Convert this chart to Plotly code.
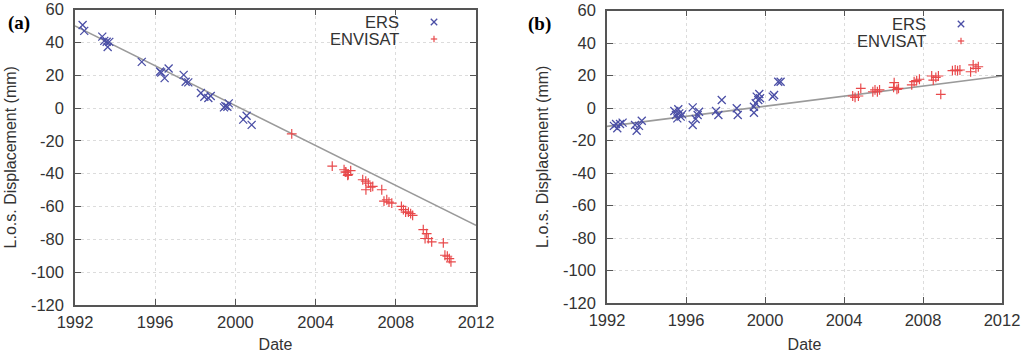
import plotly.graph_objects as go

# ---------------- Panel (a) data ----------------
a_ers_year = [1992.38, 1992.46, 1993.36, 1993.46, 1993.58, 1993.71, 1993.63, 1995.33,
              1996.24, 1996.30, 1996.47, 1996.67, 1997.42, 1997.52, 1997.65, 1998.28,
              1998.45, 1998.65, 1998.77, 1999.43, 1999.50, 1999.60, 1999.67,
              2000.39, 2000.56, 2000.81]
a_ers_disp = [50.6, 47.0, 43.5, 40.9, 40.4, 40.3, 37.2, 28.1,
              22.2, 21.6, 18.2, 24.1, 20.2, 16.0, 15.6, 9.1,
              6.9, 6.1, 7.3, 0.4, 1.2, 0.8, 2.8,
              -7.1, -4.7, -10.3]
a_env_year = [2002.81, 2004.83, 2005.42, 2005.52, 2005.63, 2005.75, 2005.48, 2005.60,
              2006.35, 2006.50, 2006.63, 2006.51, 2006.75, 2006.85, 2007.30, 2007.41,
              2007.55, 2007.66, 2007.80, 2008.28, 2008.38, 2008.49, 2008.63, 2008.74,
              2008.84, 2009.37, 2009.54, 2009.46, 2009.62, 2009.79, 2010.37, 2010.45,
              2010.57, 2010.67, 2010.75]
a_env_disp = [-15.8, -35.4, -37.6, -39.1, -40.5, -38.1, -39.0, -41.1,
              -43.7, -44.5, -45.8, -49.8, -48.2, -47.8, -49.8, -56.7,
              -55.9, -57.3, -57.9, -59.9, -61.9, -63.4, -63.4, -64.4,
              -65.4, -74.1, -76.5, -79.5, -79.5, -81.6, -82.2, -89.7,
              -90.3, -91.7, -93.7]
a_fit_year = [1992, 2012]
a_fit_disp = [50.0, -71.5]

# ---------------- Panel (b) data ----------------
b_ers_year = [1992.46, 1992.52, 1992.66, 1992.35, 1992.79, 1993.42, 1993.50, 1993.62,
              1993.76, 1995.41, 1995.49, 1995.56, 1995.66, 1995.73, 1995.81, 1995.61,
              1996.34, 1996.34, 1996.49, 1996.59, 1996.66, 1997.52, 1997.64, 1997.81,
              1998.57, 1998.62, 1999.44, 1999.44, 1999.53, 1999.58, 1999.66, 1999.71,
              1999.75, 2000.39, 2000.46, 2000.67, 2000.79]
b_ers_disp = [-9.8, -12.5, -9.8, -11.0, -9.0, -10.5, -14.0, -11.0,
              -7.8, -1.8, -4.3, -6.4, -3.3, -5.3, -3.9, -0.8,
              0.4, -10.5, -6.8, -4.3, -2.3, -1.8, -4.3, 4.9,
              -0.2, -4.3, 0.8, -2.9, 2.9, 7.0, 4.9, 8.6,
              6.0, 7.0, 8.0, 16.2, 16.2]
b_env_year = [2004.44, 2004.56, 2004.73, 2004.85, 2005.46, 2005.57, 2005.69, 2005.80,
              2006.54, 2006.51, 2006.68, 2006.76, 2007.43, 2007.55, 2007.68, 2007.82,
              2008.44, 2008.52, 2008.65, 2008.78, 2008.90, 2009.49, 2009.63, 2009.75,
              2009.87, 2010.41, 2010.54, 2010.68, 2010.80]
b_env_disp = [7.4, 6.6, 7.4, 12.1, 10.0, 11.1, 10.0, 11.1,
              15.6, 12.7, 11.5, 12.1, 14.2, 16.2, 16.8, 17.7,
              19.7, 17.2, 18.9, 19.7, 8.4, 23.0, 23.4, 23.0,
              23.4, 22.3, 26.5, 24.4, 25.4]
b_fit_year = [1992, 2012]
b_fit_disp = [-11.3, 19.7]

x_ticks = [1992, 1996, 2000, 2004, 2008, 2012]
y_ticks = [60, 40, 20, 0, -20, -40, -60, -80, -100, -120]
legend_names = ["ERS", "ENVISAT"]

ERS_COLOR = "#4b4fa6"
ENV_COLOR = "#e8494b"
FIT_COLOR = "#9a9a9a"
TEXT_COLOR = "#333333"
FONT = "Liberation Sans, Arial, sans-serif"
W, H = 1024, 353

fig = go.Figure()


def add_panel(xa, ya, ers_x, ers_y, env_x, env_y, fit_x, fit_y):
    fig.add_trace(go.Scatter(x=fit_x, y=fit_y, mode="lines",
                             line=dict(color=FIT_COLOR, width=1.6),
                             xaxis=xa, yaxis=ya, showlegend=False, hoverinfo="skip"))
    fig.add_trace(go.Scatter(x=ers_x, y=ers_y, mode="markers", name=legend_names[0],
                             marker=dict(symbol="x-thin-open", size=8, color=ERS_COLOR,
                                         line=dict(color=ERS_COLOR, width=1.3)),
                             xaxis=xa, yaxis=ya, showlegend=False))
    fig.add_trace(go.Scatter(x=env_x, y=env_y, mode="markers", name=legend_names[1],
                             marker=dict(symbol="cross-thin-open", size=7, color=ENV_COLOR,
                                         line=dict(color=ENV_COLOR, width=1.2)),
                             xaxis=xa, yaxis=ya, showlegend=False))


add_panel("x", "y", a_ers_year, a_ers_disp, a_env_year, a_env_disp, a_fit_year, a_fit_disp)
add_panel("x2", "y2", b_ers_year, b_ers_disp, b_env_year, b_env_disp, b_fit_year, b_fit_disp)

axis_common = dict(showline=True, linecolor="#555555", linewidth=1.5, mirror="ticks",
                   ticks="inside", ticklen=6, tickcolor="#555555", tickwidth=1.2,
                   showgrid=True, gridcolor="#dcdcdc", griddash="dot", gridwidth=1,
                   zeroline=False, automargin=False,
                   tickfont=dict(family=FONT, size=16.5, color=TEXT_COLOR))

xcommon = dict(axis_common, range=[1992, 2012], tickvals=x_ticks,
               ticktext=[str(v) for v in x_ticks], ticklabelstandoff=1,
               title=dict(text="Date", font=dict(family=FONT, size=16, color=TEXT_COLOR),
                          standoff=12))
ycommon = dict(axis_common, range=[-120, 60], tickvals=y_ticks,
               ticktext=[str(v) for v in y_ticks], ticklabelstandoff=6,
               title=dict(text="L.o.s. Displacement (mm)",
                          font=dict(family=FONT, size=16, color=TEXT_COLOR), standoff=10))

fig.update_layout(
    width=W, height=H, margin=dict(l=0, r=0, t=0, b=0, autoexpand=False),
    paper_bgcolor="white", plot_bgcolor="white",
    xaxis=dict(xcommon, domain=[75 / W, 476 / W], anchor="y"),
    yaxis=dict(ycommon, domain=[1 - 305 / H, 1 - 9.5 / H], anchor="x"),
    xaxis2=dict(xcommon, domain=[607 / W, 1002 / W], anchor="y2"),
    yaxis2=dict(ycommon, domain=[1 - 303 / H, 1 - 10.5 / H], anchor="x2"),
)

annotations = []
shapes = []


def legend_block(text_right, sym_x, y1, y2):
    for name, yy in zip(legend_names, (y1, y2)):
        annotations.append(dict(text=name, x=text_right / W, y=1 - yy / H, xref="paper", yref="paper",
                                xanchor="right", yanchor="middle", showarrow=False,
                                font=dict(family=FONT, size=16.5, color=TEXT_COLOR)))
    d = 3.2
    cy = y1
    shapes.append(dict(type="line", xref="paper", yref="paper",
                       x0=(sym_x - d) / W, x1=(sym_x + d) / W, y0=1 - (cy - d) / H, y1=1 - (cy + d) / H,
                       line=dict(color=ERS_COLOR, width=1.3)))
    shapes.append(dict(type="line", xref="paper", yref="paper",
                       x0=(sym_x - d) / W, x1=(sym_x + d) / W, y0=1 - (cy + d) / H, y1=1 - (cy - d) / H,
                       line=dict(color=ERS_COLOR, width=1.3)))
    cy = y2
    shapes.append(dict(type="line", xref="paper", yref="paper",
                       x0=(sym_x - d) / W, x1=(sym_x + d) / W, y0=1 - cy / H, y1=1 - cy / H,
                       line=dict(color=ENV_COLOR, width=1.2)))
    shapes.append(dict(type="line", xref="paper", yref="paper",
                       x0=sym_x / W, x1=sym_x / W, y0=1 - (cy - d) / H, y1=1 - (cy + d) / H,
                       line=dict(color=ENV_COLOR, width=1.2)))


legend_block(401, 434, 22, 39)
legend_block(928, 961, 24, 41)

annotations.append(dict(text="<b>(a)</b>", x=6 / W, y=1 - 23 / H, xref="paper", yref="paper",
                        xanchor="left", yanchor="middle", showarrow=False,
                        font=dict(family="Liberation Serif, Times New Roman, serif", size=19, color="black")))
annotations.append(dict(text="<b>(b)</b>", x=526 / W, y=1 - 24 / H, xref="paper", yref="paper",
                        xanchor="left", yanchor="middle", showarrow=False,
                        font=dict(family="Liberation Serif, Times New Roman, serif", size=19, color="black")))

fig.update_layout(annotations=annotations, shapes=shapes)
fig.write_html("out.html", config={"displayModeBar": False},
               post_script="document.body.style.margin='0';document.body.style.overflow='hidden';")
